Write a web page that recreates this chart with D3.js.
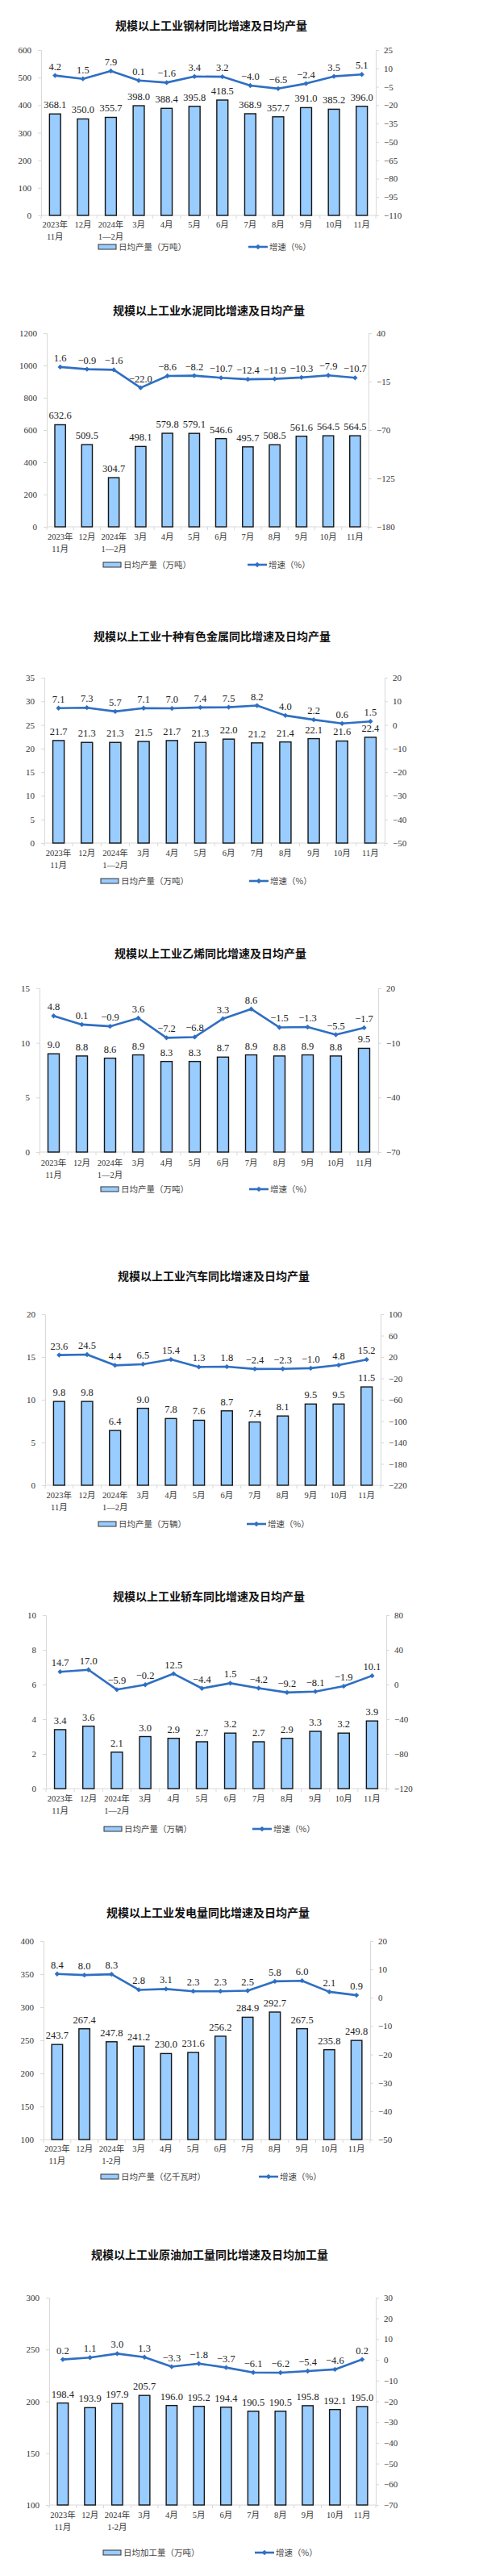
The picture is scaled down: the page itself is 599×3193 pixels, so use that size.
<!DOCTYPE html>
<html><head><meta charset="utf-8">
<script src="https://cdn.jsdelivr.net/npm/d3@7"></script>
<style>body{margin:0;background:#fff}svg{display:block}</style>
</head><body>
<svg id="c" width="599" height="3193"></svg>
<script>
// ---------- DATA ----------
const categoriesA = ["2023年|11月","12月","2024年|1—2月","3月","4月","5月","6月","7月","8月","9月","10月","11月"];
const categoriesB = ["2023年|11月","12月","2024年|1-2月","3月","4月","5月","6月","7月","8月","9月","10月","11月"];

const steelOutput = [368.1,350.0,355.7,398.0,388.4,395.8,418.5,368.9,357.7,391.0,385.2,396.0];
const steelGrowth = [4.2,1.5,7.9,0.1,-1.6,3.4,3.2,-4.0,-6.5,-2.4,3.5,5.1];
const steelLeftTicks = [0,100,200,300,400,500,600];
const steelRightTicks = [-110,-95,-80,-65,-50,-35,-20,-5,10,25];

const cementOutput = [632.6,509.5,304.7,498.1,579.8,579.1,546.6,495.7,508.5,561.6,564.5,564.5];
const cementGrowth = [1.6,-0.9,-1.6,-22.0,-8.6,-8.2,-10.7,-12.4,-11.9,-10.3,-7.9,-10.7];
const cementLeftTicks = [0,200,400,600,800,1000,1200];
const cementRightTicks = [-180,-125,-70,-15,40];

const metalOutput = [21.7,21.3,21.3,21.5,21.7,21.3,22.0,21.2,21.4,22.1,21.6,22.4];
const metalGrowth = [7.1,7.3,5.7,7.1,7.0,7.4,7.5,8.2,4.0,2.2,0.6,1.5];
const metalLeftTicks = [0,5,10,15,20,25,30,35];
const metalRightTicks = [-50,-40,-30,-20,-10,0,10,20];

const ethyleneOutput = [9.0,8.8,8.6,8.9,8.3,8.3,8.7,8.9,8.8,8.9,8.8,9.5];
const ethyleneGrowth = [4.8,0.1,-0.9,3.6,-7.2,-6.8,3.3,8.6,-1.5,-1.3,-5.5,-1.7];
const ethyleneLeftTicks = [0,5,10,15];
const ethyleneRightTicks = [-70,-40,-10,20];

const autoOutput = [9.8,9.8,6.4,9.0,7.8,7.6,8.7,7.4,8.1,9.5,9.5,11.5];
const autoGrowth = [23.6,24.5,4.4,6.5,15.4,1.3,1.8,-2.4,-2.3,-1.0,4.8,15.2];
const autoLeftTicks = [0,5,10,15,20];
const autoRightTicks = [-220,-180,-140,-100,-60,-20,20,60,100];

const carOutput = [3.4,3.6,2.1,3.0,2.9,2.7,3.2,2.7,2.9,3.3,3.2,3.9];
const carGrowth = [14.7,17.0,-5.9,-0.2,12.5,-4.4,1.5,-4.2,-9.2,-8.1,-1.9,10.1];
const carLeftTicks = [0,2,4,6,8,10];
const carRightTicks = [-120,-80,-40,0,40,80];

const powerOutput = [243.7,267.4,247.8,241.2,230.0,231.6,256.2,284.9,292.7,267.5,235.8,249.8];
const powerGrowth = [8.4,8.0,8.3,2.8,3.1,2.3,2.3,2.5,5.8,6.0,2.1,0.9];
const powerLeftTicks = [100,150,200,250,300,350,400];
const powerRightTicks = [-50,-40,-30,-20,-10,0,10,20];

const crudeOutput = [198.4,193.9,197.9,205.7,196.0,195.2,194.4,190.5,190.5,195.8,192.1,195.0];
const crudeGrowth = [0.2,1.1,3.0,1.3,-3.3,-1.8,-3.7,-6.1,-6.2,-5.4,-4.6,0.2];
const crudeLeftTicks = [100,150,200,250,300];
const crudeRightTicks = [-70,-60,-50,-40,-30,-20,-10,0,10,20,30];

const titles = [
  "规模以上工业钢材同比增速及日均产量",
  "规模以上工业水泥同比增速及日均产量",
  "规模以上工业十种有色金属同比增速及日均产量",
  "规模以上工业乙烯同比增速及日均产量",
  "规模以上工业汽车同比增速及日均产量",
  "规模以上工业轿车同比增速及日均产量",
  "规模以上工业发电量同比增速及日均产量",
  "规模以上工业原油加工量同比增速及日均加工量"
];
const barLegends = ["日均产量（万吨）","日均产量（万吨）","日均产量（万吨）","日均产量（万吨）","日均产量（万辆）","日均产量（万辆）","日均产量（亿千瓦时）","日均加工量（万吨）"];
const lineLegend = "增速（%）";

// ---------- LAYOUT ----------
const charts = [
  {cats:categoriesA, bars:steelOutput, line:steelGrowth, lt:steelLeftTicks, rt:steelRightTicks,
   tx:262, ty:32, top:62, bottom:267, left:51, right:466, xl:278, lg:306, lb:122, ll:308},
  {cats:categoriesA, bars:cementOutput, line:cementGrowth, lt:cementLeftTicks, rt:cementRightTicks,
   tx:259, ty:385, top:413, bottom:653, left:58, right:457, xl:665, lg:700, lb:128, ll:307},
  {cats:categoriesA, bars:metalOutput, line:metalGrowth, lt:metalLeftTicks, rt:metalRightTicks,
   tx:263, ty:789, top:840, bottom:1045, left:55, right:477, xl:1057, lg:1092, lb:125, ll:309},
  {cats:categoriesA, bars:ethyleneOutput, line:ethyleneGrowth, lt:ethyleneLeftTicks, rt:ethyleneRightTicks,
   tx:261, ty:1182, top:1225, bottom:1428, left:49, right:469, xl:1441, lg:1474, lb:125, ll:309},
  {cats:categoriesA, bars:autoOutput, line:autoGrowth, lt:autoLeftTicks, rt:autoRightTicks,
   tx:265, ty:1582, top:1629, bottom:1841, left:56, right:472, xl:1853, lg:1889, lb:122, ll:306},
  {cats:categoriesA, bars:carOutput, line:carGrowth, lt:carLeftTicks, rt:carRightTicks,
   tx:259, ty:1979, top:2002, bottom:2217, left:57, right:479, xl:2229, lg:2267, lb:129, ll:313},
  {cats:categoriesB, bars:powerOutput, line:powerGrowth, lt:powerLeftTicks, rt:powerRightTicks,
   tx:258, ty:2371, top:2406, bottom:2652, left:54, right:459, xl:2663, lg:2698, lb:125, ll:321},
  {cats:categoriesB, bars:crudeOutput, line:crudeGrowth, lt:crudeLeftTicks, rt:crudeRightTicks,
   tx:260, ty:2795, top:2848, bottom:3105, left:61, right:466, xl:3117, lg:3164, lb:128, ll:316}
];

const BAR_FILL = "#99ccff", BAR_STROKE = "#151515", LINE_COLOR = "#2f6fc2", AXIS_COLOR = "#d9d9d9";
const SERIF = "'Liberation Serif','Times New Roman','Noto Sans CJK SC',serif";
const CJK = "'Noto Sans CJK SC','Liberation Serif',sans-serif";
const fmt = d3.format(".1f");
const svg = d3.select("#c");
const diamond = d3.symbol().type(d3.symbolSquare).size(20);

charts.forEach((c, k) => {
  const g = svg.append("g");
  const idx = d3.range(c.cats.length);
  const x = d3.scaleBand().domain(idx).range([c.left, c.right]).paddingInner(0.6).paddingOuter(0.3);
  const yL = d3.scaleLinear().domain(d3.extent(c.lt)).range([c.bottom, c.top]);
  const yR = d3.scaleLinear().domain(d3.extent(c.rt)).range([c.bottom, c.top]);
  const cx = i => x(i) + x.bandwidth() / 2;
  const step = x.step();

  // title
  g.append("text").attr("x", c.tx).attr("y", c.ty + 5).attr("text-anchor", "middle")
    .style("font-family", CJK).style("font-weight", "bold").style("font-size", "14px").attr("fill", "#111")
    .text(titles[k]);

  // left axis
  const axL = g.append("g").attr("transform", `translate(${c.left},0)`)
    .call(d3.axisLeft(yL).tickValues(c.lt).tickSize(4).tickPadding(8).tickFormat(d3.format("d")));
  const axR = g.append("g").attr("transform", `translate(${c.right},0)`)
    .call(d3.axisRight(yR).tickValues(c.rt).tickSize(4).tickPadding(6).tickFormat(d3.format("d")));
  [axL, axR].forEach(a => {
    a.select(".domain").attr("stroke", AXIS_COLOR);
    a.selectAll(".tick line").attr("stroke", AXIS_COLOR);
    a.selectAll(".tick text").style("font-family", SERIF).style("font-size", "11px").attr("fill", "#333");
  });

  // bottom axis
  g.append("line").attr("x1", c.left).attr("x2", c.right).attr("y1", c.bottom).attr("y2", c.bottom)
    .attr("stroke", AXIS_COLOR);
  g.selectAll(".xt").data(d3.range(c.cats.length + 1)).join("line")
    .attr("x1", i => c.left + i * step).attr("x2", i => c.left + i * step)
    .attr("y1", c.bottom).attr("y2", c.bottom + 4).attr("stroke", AXIS_COLOR);

  // x labels
  g.selectAll(".xl").data(idx).join("text")
    .attr("text-anchor", "middle").style("font-family", SERIF).style("font-size", "10.5px").attr("fill", "#333")
    .each(function(i) {
      const parts = c.cats[i].split("|");
      const t = d3.select(this);
      parts.forEach((p, j) => t.append("tspan").attr("x", cx(i)).attr("y", c.xl + 4 + j * 14.5).text(p));
    });

  // bars
  g.selectAll(".bar").data(idx).join("rect")
    .attr("x", i => x(i)).attr("width", x.bandwidth())
    .attr("y", i => yL(c.bars[i])).attr("height", i => c.bottom - yL(c.bars[i]))
    .attr("fill", BAR_FILL).attr("stroke", BAR_STROKE).attr("stroke-width", 1.4);

  g.selectAll(".bl").data(idx).join("text")
    .attr("x", cx).attr("y", i => yL(c.bars[i]) - 7).attr("text-anchor", "middle")
    .style("font-family", SERIF).style("font-size", "12.5px").attr("fill", "#222")
    .text(i => fmt(c.bars[i]));

  // line
  const line = d3.line().x(cx).y(i => yR(c.line[i]));
  g.append("path").datum(idx).attr("d", line).attr("fill", "none")
    .attr("stroke", LINE_COLOR).attr("stroke-width", 2.6).attr("stroke-linejoin", "round");
  g.selectAll(".pt").data(idx).join("path")
    .attr("d", diamond).attr("transform", i => `translate(${cx(i)},${yR(c.line[i])}) rotate(45)`)
    .attr("fill", LINE_COLOR);
  g.selectAll(".ll").data(idx).join("text")
    .attr("x", cx).attr("y", i => yR(c.line[i]) - 7).attr("text-anchor", "middle")
    .style("font-family", SERIF).style("font-size", "12.5px").attr("fill", "#222")
    .text(i => fmt(c.line[i]));

  // legend
  g.append("rect").attr("x", c.lb).attr("y", c.lg - 3).attr("width", 22).attr("height", 6)
    .attr("fill", BAR_FILL).attr("stroke", "#333").attr("stroke-width", 1);
  g.append("text").attr("x", c.lb + 25).attr("y", c.lg + 4)
    .style("font-family", CJK).style("font-size", "10.5px").attr("fill", "#444").text(barLegends[k]);
  g.append("line").attr("x1", c.ll).attr("x2", c.ll + 24).attr("y1", c.lg).attr("y2", c.lg)
    .attr("stroke", LINE_COLOR).attr("stroke-width", 2.6);
  g.append("path").attr("d", diamond).attr("transform", `translate(${c.ll + 12},${c.lg}) rotate(45)`)
    .attr("fill", LINE_COLOR);
  g.append("text").attr("x", c.ll + 26).attr("y", c.lg + 4)
    .style("font-family", CJK).style("font-size", "10.5px").attr("fill", "#444").text(lineLegend);
});
</script>
</body></html>
